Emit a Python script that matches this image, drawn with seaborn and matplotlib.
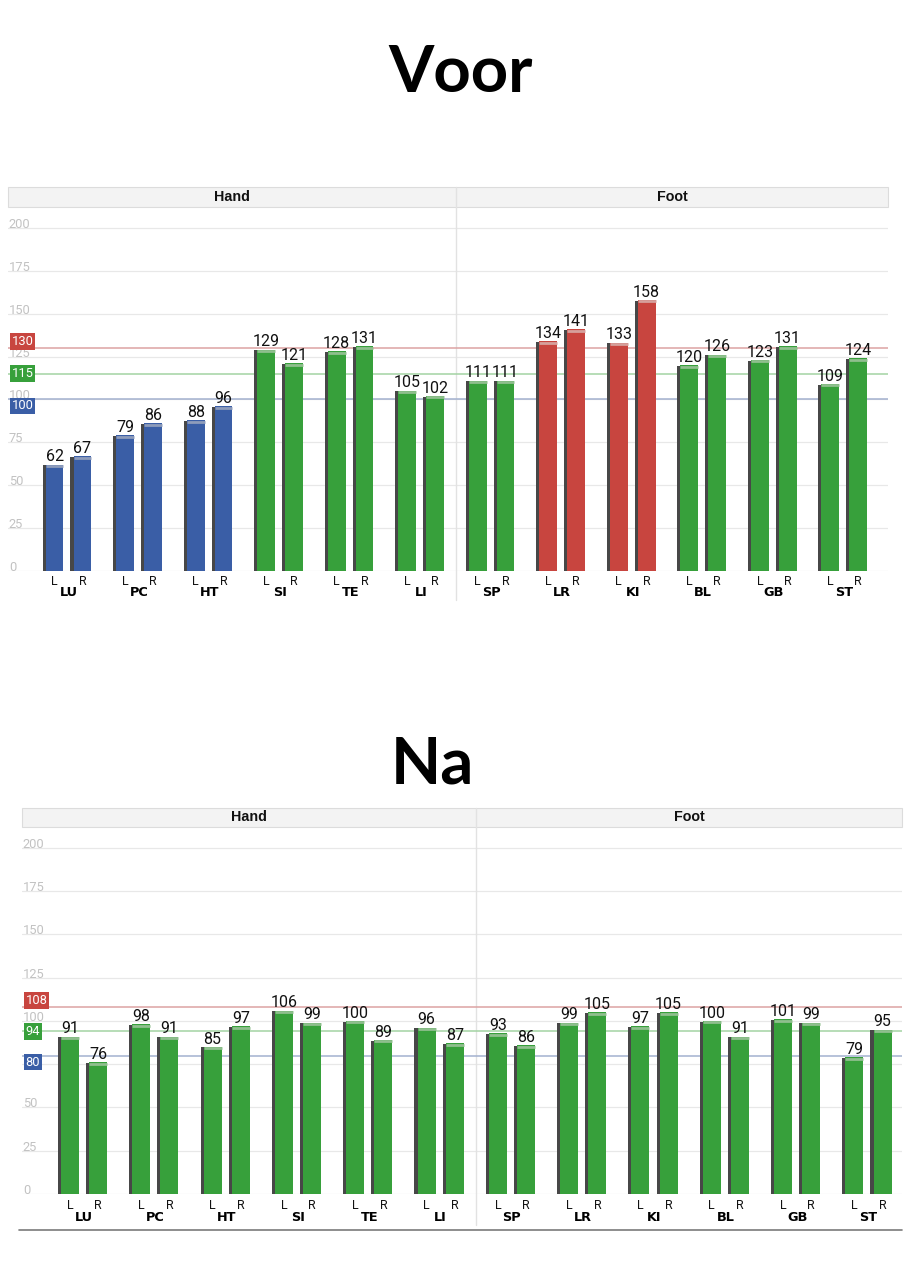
import matplotlib
matplotlib.use("Agg")
import matplotlib.pyplot as plt
import seaborn as sns
import pandas as pd
from matplotlib import patheffects as pe
from matplotlib.patches import Rectangle
from matplotlib.transforms import blended_transform_factory as blend

# ---------------- data ----------------
groups = ["LU", "PC", "HT", "SI", "TE", "LI", "SP", "LR", "KI", "BL", "GB", "ST"]
sides = ["L", "R"]
sections = ["Hand", "Foot"]

voor_L = [62, 79, 88, 129, 128, 105, 111, 134, 133, 120, 123, 109]
voor_R = [67, 86, 96, 121, 131, 102, 111, 141, 158, 126, 131, 124]
voor_L_status = ["low", "low", "low", "ok", "ok", "ok", "ok", "high", "high", "ok", "ok", "ok"]
voor_R_status = ["low", "low", "low", "ok", "ok", "ok", "ok", "high", "high", "ok", "ok", "ok"]
voor_refs = [130, 115, 100]

na_L = [91, 98, 85, 106, 100, 96, 93, 99, 97, 100, 101, 79]
na_R = [76, 91, 97, 99, 89, 87, 86, 105, 105, 91, 99, 95]
na_L_status = ["ok"] * 12
na_R_status = ["ok"] * 12
na_refs = [108, 94, 80]

y_ticks = [0, 25, 50, 75, 100, 125, 150, 175, 200]

# ---------------- style ----------------
sns.set_theme(style="white")
plt.rcParams["font.family"] = ["Roboto", "DejaVu Sans"]
plt.rcParams["text.color"] = "black"

face = {"low": "#3a5ea6", "ok": "#37a03b", "high": "#c8453f"}
cap = {"low": "#8e9cbb", "ok": "#8fbf8e", "high": "#d6a09c"}
ref_box = ["#c8453f", "#37a03b", "#3a5ea6"]
ref_line = ["#dca3a3", "#a3d3a3", "#a3b1cf"]
ref_va = ["bottom", "center", "top"]

W, H = 914, 1286
fig = plt.figure(figsize=(W / 100, H / 100), dpi=100)


def draw(ax, L, R, statL, statR, refs, xlim, ylim_top, header_h, lr_y, grp_pad, div_low, base_line=None):
    df = pd.DataFrame({"group": groups * 2, "side": ["L"] * 12 + ["R"] * 12, "value": L + R})
    sns.barplot(data=df, x="group", y="value", hue="side", order=groups, hue_order=sides,
                width=0.79, gap=0.36, palette=["#37a03b", "#37a03b"], saturation=1,
                errorbar=None, legend=False, ax=ax, zorder=3)
    ax.set_xlim(*xlim)
    ax.set_ylim(0, ylim_top)
    for s in ax.spines.values():
        s.set_visible(False)
    ax.set_xlabel("")
    ax.set_ylabel("")
    ax.set_yticks(y_ticks)
    ax.tick_params(axis="y", labelleft=False, length=0)
    ax.yaxis.grid(True, color="#e8e8e8", lw=0.9)
    ax.set_axisbelow(True)
    ax.set_xticks(range(len(groups)))
    ax.set_xticklabels(groups, fontweight="bold", fontsize=9.3, color="black",
                       family=["DejaVu Sans"])
    ax.tick_params(axis="x", length=0, pad=grp_pad)

    tr_y = blend(ax.transAxes, ax.transData)
    tr_x = blend(ax.transData, ax.transAxes)
    for t in y_ticks:
        ax.text(0.001, t, str(t), transform=tr_y, ha="left", va="baseline",
                color="#c2c2c2", fontsize=9.3, zorder=2)

    # reference lines + labels
    for v, bc, lc, va in zip(refs, ref_box, ref_line, ref_va):
        ax.axhline(v, color=lc, lw=1.1, zorder=2)
        ax.text(0.004, v, str(v), transform=tr_y, ha="left", va=va, color="white",
                fontsize=9.3, zorder=5,
                bbox=dict(boxstyle="square,pad=0.14", fc=bc, ec="none"))

    for cont, stats, sd in zip(ax.containers, [statL, statR], sides):
        for bar, s in zip(cont, stats):
            bar.set_facecolor(face[s])
            bar.set_edgecolor("none")
            bar.set_path_effects([pe.SimplePatchShadow(offset=(-2.2, -0.4), shadow_rgbFace="#474747", alpha=1.0),
                                  pe.Normal()])
            x0, w, h = bar.get_x(), bar.get_width(), bar.get_height()
            ax.plot([x0, x0 + w], [h - 0.85, h - 0.85], color=cap[s], lw=2.0,
                    solid_capstyle="butt", zorder=4)
            ax.text(x0 + w / 2, lr_y, sd, transform=tr_x, ha="center", va="top",
                    fontsize=9.0, color="#111")
        ax.bar_label(cont, fmt="%.0f", padding=0.3, fontsize=11.5, color="#111")

    # header band
    ax.add_patch(Rectangle((0, 1), 1, header_h, transform=ax.transAxes, fc="#f3f3f3",
                           ec="#dcdcdc", lw=0.8, clip_on=False, zorder=1))
    mid = 5.5
    ax.text((xlim[0] + mid) / 2, 1 + header_h / 2, sections[0], transform=tr_x, ha="center",
            va="center", fontweight="bold", fontsize=10.3, family=["Liberation Sans"], color="#111")
    ax.text((mid + xlim[1]) / 2, 1 + header_h / 2, sections[1], transform=tr_x, ha="center",
            va="center", fontweight="bold", fontsize=10.3, family=["Liberation Sans"], color="#111")
    ax.plot([mid, mid], [div_low, 1 + header_h], transform=tr_x, color="#e2e2e2", lw=1.0,
            clip_on=False, zorder=1.5)
    if base_line is not None:
        ax.plot([-0.003, 1.0], [base_line, base_line], transform=ax.transAxes, color="#7a7a7a",
                lw=1.2, clip_on=False)


# top chart: x 8..888, y 207..571
ax1 = fig.add_axes([8 / W, (H - 571) / H, 880 / W, (571 - 207) / H])
draw(ax1, voor_L, voor_R, voor_L_status, voor_R_status, voor_refs,
     xlim=(-0.858, 11.62), ylim_top=212.2, header_h=20 / 364, lr_y=-4 / 364,
     grp_pad=11.0, div_low=-29 / 364)

# bottom chart: x 22..902, y 827..1194
ax2 = fig.add_axes([22 / W, (H - 1194) / H, 880 / W, (1194 - 827) / H])
draw(ax2, na_L, na_R, na_L_status, na_R_status, na_refs,
     xlim=(-0.870, 11.47), ylim_top=212.1, header_h=19 / 367, lr_y=-5 / 367,
     grp_pad=12.5, div_low=-31 / 367, base_line=-36 / 367)

fig.text(461 / W, 1 - 92 / H, "Voor", ha="center", va="baseline", fontsize=47,
         fontweight="bold", family=["Lato", "DejaVu Sans"], color="black")
fig.text(432 / W, 1 - 783 / H, "Na", ha="center", va="baseline", fontsize=47,
         fontweight="bold", family=["Lato", "DejaVu Sans"], color="black")

fig.savefig("out.png", dpi=100, facecolor="white")
